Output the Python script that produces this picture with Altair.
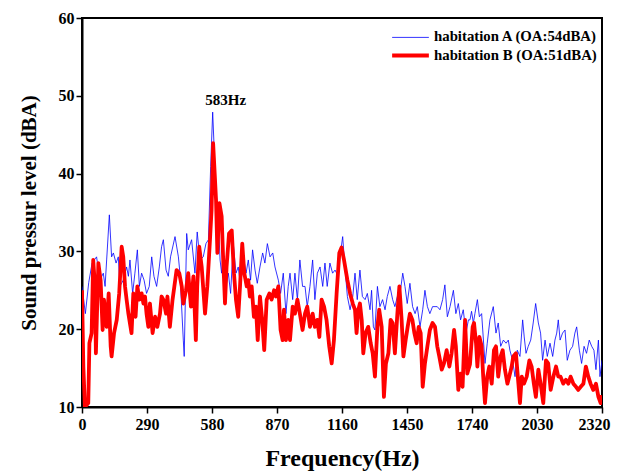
import altair as alt
import pandas as pd

series_names = ["habitation A (OA:54dBA)", "habitation B (OA:51dBA)"]
series_colors = ["#0000ff", "#ff0000"]

blue_hz = [0, 15, 30, 45, 65, 80, 95, 103, 110, 122, 132, 140, 152, 162, 169, 184, 199, 207, 214, 226,
           236, 247, 256, 266, 277, 288, 300, 311, 321, 333, 345, 355, 363, 375, 385, 395, 415, 430, 437, 452,
           456, 467, 474, 489, 504, 514, 526, 541, 553, 564, 574, 583, 593, 601, 608, 616, 623, 630, 642, 653,
           663, 675, 687, 697, 708, 720, 732, 742, 752, 761, 772, 782, 794, 806, 816, 827, 839, 851, 861, 876,
           886, 898, 910, 920, 928, 940, 950, 961, 972, 984, 995, 1005, 1017, 1029, 1039, 1050, 1062, 1074, 1084, 1094,
           1106, 1118, 1129, 1143, 1151, 1163, 1173, 1184, 1196, 1208, 1218, 1228, 1240, 1251, 1263, 1273, 1285, 1292, 1300, 1307,
           1318, 1329, 1341, 1352, 1362, 1374, 1386, 1396, 1407, 1419, 1431, 1441, 1451, 1463, 1475, 1486, 1496, 1508, 1520, 1530,
           1541, 1552, 1564, 1575, 1585, 1597, 1609, 1619, 1630, 1642, 1657, 1668, 1679, 1689, 1701, 1713, 1724, 1731, 1738, 1746,
           1753, 1764, 1773, 1783, 1790, 1798, 1808, 1820, 1835, 1847, 1857, 1868, 1880, 1892, 1902, 1909, 1921, 1932, 1942, 1954,
           1966, 1973, 1981, 1991, 2002, 2013, 2024, 2036, 2046, 2055, 2066, 2076, 2088, 2100, 2110, 2118, 2125, 2133, 2144, 2155,
           2165, 2177, 2189, 2199, 2207, 2219, 2229, 2240, 2251, 2263, 2274, 2284, 2293, 2304, 2311, 2320]
blue_db = [25.5, 22.0, 26.0, 28.5, 29.3, 26.3, 27.2, 25.5, 28.9, 34.7, 29.3, 29.8, 28.5, 29.3, 25.5, 26.3, 28.0, 26.8, 28.9, 24.6,
           27.2, 30.2, 25.5, 27.2, 26.3, 24.6, 25.5, 29.3, 26.8, 25.5, 28.0, 30.6, 31.5, 27.6, 26.8, 29.3, 31.9, 29.3, 27.2, 18.6,
           16.5, 32.3, 30.2, 31.5, 27.2, 32.5, 28.9, 29.3, 31.0, 31.5, 40.9, 47.9, 40.9, 36.6, 34.5, 28.9, 27.2, 30.2, 25.5, 27.2,
           24.6, 31.0, 27.2, 28.0, 25.5, 29.3, 27.2, 28.9, 26.3, 30.2, 27.6, 25.9, 28.0, 29.8, 28.5, 31.0, 29.3, 29.8, 28.0, 26.3,
           24.6, 27.2, 22.0, 25.5, 27.2, 23.8, 27.2, 23.8, 28.9, 25.5, 25.5, 22.9, 25.5, 28.9, 23.8, 27.2, 28.0, 25.5, 28.5, 25.5,
           28.5, 27.2, 27.6, 26.8, 29.3, 31.9, 28.0, 24.2, 22.5, 24.2, 27.2, 23.8, 27.6, 24.2, 23.8, 24.6, 22.5, 25.0, 20.3, 19.9,
           25.5, 22.9, 23.8, 22.5, 24.2, 25.5, 23.8, 22.9, 24.2, 24.6, 27.2, 25.5, 23.3, 25.9, 22.9, 22.0, 22.9, 20.3, 22.5, 25.0,
           22.9, 22.0, 22.9, 22.9, 22.9, 22.5, 23.8, 25.7, 21.6, 22.9, 25.0, 22.0, 23.3, 21.2, 22.5, 19.5, 21.2, 21.2, 22.3, 20.8,
           22.0, 23.8, 21.6, 22.0, 19.0, 15.6, 18.2, 21.2, 22.9, 19.5, 20.8, 17.8, 18.6, 18.2, 18.6, 17.3, 16.0, 13.9, 17.3, 16.5,
           21.2, 19.0, 16.9, 17.8, 18.6, 20.8, 23.3, 20.8, 19.5, 16.0, 18.6, 16.5, 18.2, 16.5, 18.6, 19.5, 21.2, 18.6, 19.5, 19.9,
           16.0, 17.3, 17.8, 19.5, 20.3, 17.3, 15.6, 17.8, 16.9, 18.6, 17.8, 17.3, 14.8, 18.6, 13.9, 16.0]

red_hz = [0, 6, 13, 28, 33, 43, 50, 58, 62, 73, 83, 92, 98, 110, 119, 128, 132, 143, 155, 166,
          177, 184, 192, 199, 207, 221, 229, 239, 247, 256, 266, 274, 281, 288, 296, 303, 315, 326, 336, 348,
          355, 363, 375, 381, 392, 404, 412, 422, 434, 445, 452, 464, 474, 486, 497, 508, 514, 523, 534, 549,
          559, 571, 578, 585, 592, 598, 604, 613, 623, 630, 638, 645, 656, 668, 678, 687, 697, 705, 715, 724,
          735, 742, 749, 757, 767, 776, 784, 794, 804, 813, 824, 836, 846, 857, 865, 876, 886, 895, 901, 910,
          920, 928, 940, 950, 961, 972, 984, 995, 1005, 1017, 1029, 1039, 1050, 1059, 1069, 1080, 1091, 1103, 1114, 1124,
          1136, 1148, 1158, 1169, 1184, 1196, 1208, 1218, 1225, 1233, 1240, 1248, 1255, 1265, 1277, 1288, 1297, 1307, 1318, 1326,
          1337, 1347, 1356, 1367, 1377, 1386, 1396, 1407, 1416, 1426, 1434, 1444, 1453, 1463, 1474, 1483, 1493, 1502, 1511, 1520,
          1530, 1541, 1552, 1564, 1575, 1585, 1594, 1605, 1615, 1627, 1639, 1649, 1660, 1668, 1679, 1689, 1698, 1709, 1719, 1731,
          1743, 1749, 1758, 1764, 1773, 1783, 1790, 1798, 1808, 1817, 1828, 1838, 1847, 1857, 1868, 1877, 1887, 1898, 1906, 1917,
          1924, 1936, 1947, 1954, 1962, 1972, 1984, 1996, 2006, 2016, 2025, 2036, 2046, 2058, 2070, 2080, 2091, 2103, 2115, 2125,
          2135, 2147, 2159, 2170, 2180, 2192, 2204, 2214, 2225, 2237, 2248, 2259, 2269, 2281, 2293, 2304, 2314, 2320]
red_db = [25.0, 15.2, 10.0, 10.5, 18.2, 19.5, 28.9, 25.5, 16.9, 28.5, 26.3, 19.9, 23.8, 20.3, 24.6, 17.8, 16.5, 19.5, 21.2, 24.6,
          30.6, 29.3, 25.5, 23.8, 22.0, 19.5, 24.6, 21.6, 25.5, 23.8, 24.6, 23.3, 24.2, 22.0, 20.3, 23.3, 19.5, 21.6, 20.3, 22.0,
          24.2, 23.8, 22.0, 24.2, 20.3, 23.8, 25.5, 27.6, 27.2, 25.5, 23.3, 25.0, 27.2, 22.9, 26.8, 18.6, 25.5, 30.6, 28.0, 22.0,
          25.5, 31.5, 35.3, 43.9, 40.0, 36.6, 29.8, 36.2, 34.5, 28.9, 23.3, 28.0, 32.3, 32.7, 27.2, 23.8, 21.6, 25.5, 31.0, 27.2,
          25.5, 26.3, 24.2, 25.5, 21.6, 22.9, 18.6, 24.2, 21.2, 17.3, 23.8, 24.6, 23.8, 25.0, 24.2, 25.5, 19.9, 18.6, 22.5, 18.6,
          21.2, 18.6, 22.9, 22.0, 23.8, 22.0, 19.9, 22.0, 22.9, 20.3, 22.0, 20.3, 21.2, 19.0, 23.8, 22.9, 21.2, 17.8, 15.6, 18.6,
          24.6, 29.8, 30.5, 28.9, 26.3, 24.6, 23.3, 22.5, 19.5, 22.5, 23.3, 21.2, 16.9, 19.5, 20.3, 18.2, 16.9, 13.9, 20.3, 22.5,
          20.3, 11.3, 15.6, 16.9, 21.2, 20.8, 16.9, 22.0, 25.5, 21.2, 16.5, 18.6, 20.3, 22.0, 21.2, 19.5, 18.2, 20.3, 19.5, 12.6,
          15.6, 17.8, 19.9, 20.8, 20.3, 17.8, 16.5, 14.8, 15.6, 17.3, 15.2, 16.9, 19.9, 17.8, 12.2, 14.3, 12.6, 21.2, 14.3, 15.5,
          20.3, 20.8, 18.2, 15.2, 19.0, 17.8, 13.9, 10.5, 13.9, 15.2, 13.0, 17.3, 17.8, 13.9, 16.5, 17.3, 14.8, 13.0, 13.9, 15.2,
          16.5, 16.9, 13.0, 10.5, 13.9, 13.0, 13.9, 16.0, 15.2, 13.0, 11.3, 14.8, 13.0, 10.5, 16.0, 15.6, 12.2, 13.9, 15.2, 13.9,
          13.9, 13.0, 13.5, 13.0, 13.9, 13.0, 12.6, 12.2, 12.6, 13.0, 15.2, 13.9, 13.0, 12.2, 13.0, 11.3, 10.5, 11.5]

x_ticks = [0, 290, 580, 870, 1160, 1450, 1740, 2030, 2320]
x_minor = [v * 145 for v in range(17)]
y_ticks = [10, 20, 30, 40, 50, 60]

peak_hz = [583]
peak_db = [47.9]
peak_label = ["583Hz"]

df_a = pd.DataFrame({"freq": blue_hz, "spl": blue_db, "series": series_names[0]})
df_b = pd.DataFrame({"freq": red_hz, "spl": red_db, "series": series_names[1]})
df_peak = pd.DataFrame({"freq": peak_hz, "spl": peak_db, "label": peak_label})

FONT = "Liberation Serif"

x_enc = alt.X("freq:Q", scale=alt.Scale(domain=[0, 2320], nice=False, zero=False),
              axis=alt.Axis(values=x_minor, title="Frequency(Hz)",
                            labelExpr="datum.value % 290 === 0 ? datum.label : ''",
                            tickSize={"condition": {"test": "datum.value % 290 === 0", "value": 6}, "value": 3},
                            labelAlign={"condition": {"test": "datum.value === 2320", "value": "right"}, "value": "center"},
                            labelOffset={"condition": {"test": "datum.value === 2320", "value": 8}, "value": 0},
                            labelFontSize=16, titleFontSize=24, titlePadding=14, labelPadding=3,
                            labelOverlap=False, format="d", labelFlush=False))
y_enc = alt.Y("spl:Q", scale=alt.Scale(domain=[10, 60], nice=False, zero=False),
              axis=alt.Axis(values=y_ticks, title="Sound pressur level (dBA)", labelFontSize=16,
                            titleFontSize=21, titlePadding=19, tickSize=6, labelPadding=2, format="d"))

legend_opts = dict(title=None, orient="none", legendX=320, legendY=12,
                   symbolType="M-3,0H3", symbolSize=150, labelFontSize=14.8, labelLimit=400,
                   labelFont=FONT, labelFontWeight="bold", rowPadding=2,
                   labelOffset=15, padding=0)
color_enc = alt.Color("series:N", scale=alt.Scale(domain=series_names, range=series_colors),
                      legend=alt.Legend(**legend_opts))
width_enc = alt.StrokeWidth("series:N", scale=alt.Scale(domain=series_names, range=[0.8, 3.8]),
                            legend=alt.Legend(**legend_opts))

line_a = alt.Chart(df_a).mark_line(clip=True, strokeJoin="round").encode(
    x=x_enc, y=y_enc, color=color_enc, strokeWidth=width_enc)
line_b = alt.Chart(df_b).mark_line(clip=True, strokeJoin="round").encode(
    x=x_enc, y=y_enc, color=color_enc, strokeWidth=width_enc)
peak_text = alt.Chart(df_peak).mark_text(font=FONT, fontWeight="bold", fontSize=15, baseline="bottom",
                                         align="center", dx=13, dy=-4, color="black").encode(
    x="freq:Q", y="spl:Q", text="label:N")

chart = alt.layer(line_a, line_b, peak_text).properties(
    width=520, height=389, autosize=alt.AutoSizeParams(type="none"),
    padding={"left": 74, "top": 10, "right": 9, "bottom": 64},
    background="white"
).configure_view(stroke="black", strokeWidth=2).configure_axis(
    labelFont=FONT, titleFont=FONT, labelFontWeight="bold", titleFontWeight="bold",
    labelColor="black", titleColor="black", domainColor="black", tickColor="black",
    domainWidth=2, tickWidth=1.5, grid=False
)

chart.save("out.html", embed_options={"renderer": "svg", "actions": False})
